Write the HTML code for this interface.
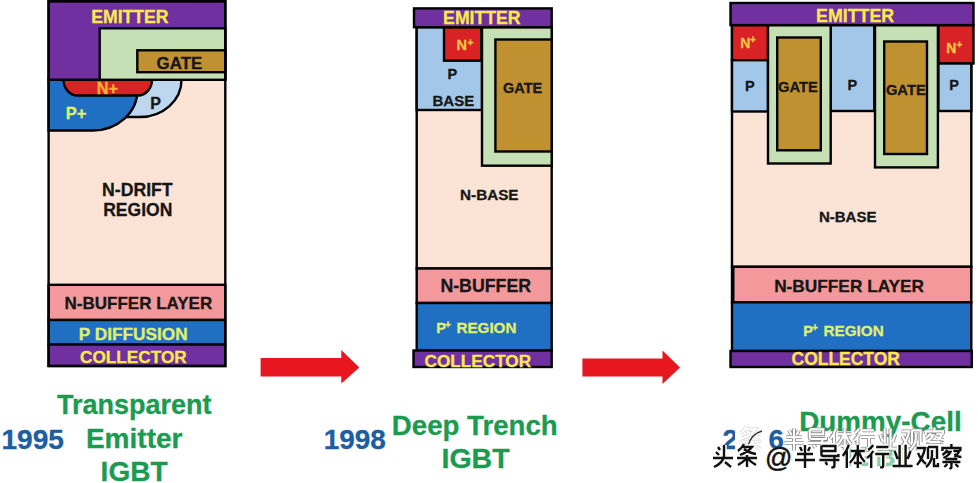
<!DOCTYPE html>
<html><head><meta charset="utf-8">
<style>
html,body{margin:0;padding:0;background:#fff;width:978px;height:483px;overflow:hidden}
svg{display:block}
text{font-family:"Liberation Sans",sans-serif;font-weight:bold}
</style></head><body>
<svg width="978" height="483" viewBox="0 0 978 483">

<g stroke="#000" stroke-width="2.4">
  <rect x="48.6" y="79.8" width="176.7" height="205" fill="#fbe3d6" stroke="none"/>
  <path d="M100,79.8 H181.5 A41.5,37 0 0 1 140,117 H100 Z" fill="#bdd7ee"/>
  <path d="M48.6,79.8 H137.5 V90 A44.5,40.5 0 0 1 93,130.5 H48.6 Z" fill="#1f6fc2"/>
  <path d="M63.5,79.8 A14,15.7 0 0 0 77.5,95.5 H138 A14,15.7 0 0 0 152,79.8 Z" fill="#d82226"/>
  <path d="M48.6,1.2 H225.3 V79.8 H48.6 Z" fill="#7030a0"/>
  <rect x="99.7" y="28.3" width="125.6" height="51.5" fill="#c5e0b4"/>
  <rect x="137.3" y="50.3" width="88" height="21.9" fill="#bf9130"/>
  <rect x="48.6" y="284.8" width="176.7" height="35.2" fill="#f4999b"/>
  <rect x="48.6" y="320" width="176.7" height="24.5" fill="#1f6fc2"/>
  <rect x="48.6" y="344.5" width="176.7" height="21.5" fill="#7030a0"/>
  <rect x="48.6" y="1.2" width="176.7" height="364.8" fill="none"/>
</g>
<g stroke="#000" stroke-width="2.4">
  <rect x="416.7" y="27.2" width="135" height="241.3" fill="#fbe3d6"/>
  <rect x="416.7" y="27.2" width="65.3" height="82.8" fill="#a3c7e8"/>
  <rect x="444" y="27.2" width="37.3" height="33.5" fill="#d82226"/>
  <rect x="482" y="27.2" width="69.7" height="138.5" fill="#c5e0b4"/>
  <rect x="495.4" y="39.5" width="56.3" height="112" fill="#bf9130"/>
  <rect x="414" y="8.4" width="137.7" height="18.8" fill="#7030a0"/>
  <rect x="416.7" y="268.5" width="135" height="34.5" fill="#f4999b"/>
  <rect x="416.7" y="303" width="135" height="47.5" fill="#1f6fc2"/>
  <rect x="413.5" y="350.5" width="138.2" height="16.5" fill="#7030a0"/>
</g>
<g stroke="#000" stroke-width="2.4">
  <rect x="732" y="25.1" width="239.3" height="241.7" fill="#fbe3d6"/>
  <rect x="732" y="25.1" width="36" height="35.1" fill="#d82226"/>
  <rect x="732" y="60.2" width="36" height="51.3" fill="#a3c7e8"/>
  <rect x="830.4" y="25.1" width="43.8" height="85.9" fill="#a3c7e8"/>
  <rect x="938.4" y="25.1" width="35.1" height="38.4" fill="#d82226"/>
  <rect x="938.4" y="63.5" width="32.9" height="47.5" fill="#a3c7e8"/>
  <rect x="768" y="25.1" width="62.7" height="138.4" fill="#c5e0b4"/>
  <rect x="777.2" y="37.5" width="43.6" height="112.8" fill="#bf9130"/>
  <rect x="875" y="25.1" width="62.9" height="142.3" fill="#c5e0b4"/>
  <rect x="884.2" y="41.5" width="42.8" height="112.5" fill="#bf9130"/>
  <rect x="730.5" y="3" width="243" height="22.1" fill="#7030a0"/>
  <rect x="732" y="266.8" width="239.3" height="35.5" fill="#f4999b"/>
  <rect x="732" y="302.3" width="239.3" height="48.7" fill="#1f6fc2"/>
  <rect x="730.5" y="351" width="241.3" height="16" fill="#7030a0"/>
  <rect x="731.5" y="267" width="3" height="35" fill="#000" stroke="none"/>
</g>
<path d="M260.6,358 H341.3 V349.9 L359.3,367.5 L341.3,383.4 V376.6 H260.6 Z" fill="#e8161e"/>
<path d="M582.4,358.6 H662.5 V350.5 L680,367.5 L662.5,384 V376.6 H582.4 Z" fill="#e8161e"/>

<text x="91.22" y="22.75" font-size="17.62" fill="#fbe94c" stroke="#fbe94c" stroke-width="0.3">EMITTER</text>
<text x="156.61" y="68.55" font-size="16.87" fill="#161616" stroke="#161616" stroke-width="0.3">GATE</text>
<text x="96.81" y="93.95" font-size="16.30" fill="#f9b233" stroke="#f9b233" stroke-width="0.3">N+</text>
<text x="65.80" y="119.35" font-size="16.50" fill="#e2ef6a" stroke="#e2ef6a" stroke-width="0.3">P+</text>
<text x="150.13" y="109.45" font-size="16.00" fill="#161616" stroke="#161616" stroke-width="0.3">P</text>
<text x="102.02" y="195.55" font-size="17.67" fill="#161616" stroke="#161616" stroke-width="0.3">N-DRIFT</text>
<text x="103.23" y="216.05" font-size="17.53" fill="#161616" stroke="#161616" stroke-width="0.3">REGION</text>
<text x="64.56" y="309.05" font-size="17.01" fill="#161616" stroke="#161616" stroke-width="0.3">N-BUFFER LAYER</text>
<text x="78.75" y="340.25" font-size="17.24" fill="#e2ef6a" stroke="#e2ef6a" stroke-width="0.3">P DIFFUSION</text>
<text x="80.09" y="363.35" font-size="17.21" fill="#fbe94c" stroke="#fbe94c" stroke-width="0.3">COLLECTOR</text>
<text x="56.90" y="414.45" font-size="27.03" fill="#1a9b50" stroke="#1a9b50" stroke-width="0.3">Transparent</text>
<text x="85.92" y="447.55" font-size="28.04" fill="#1a9b50" stroke="#1a9b50" stroke-width="0.3">Emitter</text>
<text x="100.62" y="480.85" font-size="28.04" fill="#1a9b50" stroke="#1a9b50" stroke-width="0.3">IGBT</text>
<text x="1.43" y="449.45" font-size="28.07" fill="#1d5da2" stroke="#1d5da2" stroke-width="0.3">1995</text>
<text x="443.12" y="24.25" font-size="17.65" fill="#fbe94c" stroke="#fbe94c" stroke-width="0.3">EMITTER</text>
<text x="456.53" y="50.25" font-size="14.50" fill="#fcc640" stroke="#fcc640" stroke-width="0.3">N</text>
<text x="467.48" y="45.65" font-size="10.00" fill="#fcc640" stroke="#fcc640" stroke-width="0.3">+</text>
<text x="447.53" y="79.05" font-size="14.50" fill="#161616" stroke="#161616" stroke-width="0.3">P</text>
<text x="432.50" y="105.55" font-size="15.01" fill="#161616" stroke="#161616" stroke-width="0.3">BASE</text>
<text x="503.01" y="92.85" font-size="14.49" fill="#161616" stroke="#161616" stroke-width="0.3">GATE</text>
<text x="460.08" y="200.35" font-size="15.26" fill="#161616" stroke="#161616" stroke-width="0.3">N-BASE</text>
<text x="440.41" y="291.75" font-size="17.74" fill="#161616" stroke="#161616" stroke-width="0.3">N-BUFFER</text>
<text x="436.33" y="332.65" font-size="14.50" fill="#e2ef6a" stroke="#e2ef6a" stroke-width="0.3">P</text>
<text x="445.08" y="327.55" font-size="10.00" fill="#e2ef6a" stroke="#e2ef6a" stroke-width="0.3">+</text>
<text x="456.48" y="332.65" font-size="15.19" fill="#e2ef6a" stroke="#e2ef6a" stroke-width="0.3">REGION</text>
<text x="424.49" y="366.75" font-size="17.22" fill="#fbe94c" stroke="#fbe94c" stroke-width="0.3">COLLECTOR</text>
<text x="391.85" y="435.05" font-size="27.65" fill="#1a9b50" stroke="#1a9b50" stroke-width="0.3">Deep Trench</text>
<text x="441.49" y="468.25" font-size="28.52" fill="#1a9b50" stroke="#1a9b50" stroke-width="0.3">IGBT</text>
<text x="323.74" y="448.85" font-size="27.92" fill="#1d5da2" stroke="#1d5da2" stroke-width="0.3">1998</text>
<text x="816.11" y="22.05" font-size="17.81" fill="#fbe94c" stroke="#fbe94c" stroke-width="0.3">EMITTER</text>
<text x="740.26" y="47.85" font-size="14.00" fill="#fcc640" stroke="#fcc640" stroke-width="0.3">N</text>
<text x="750.08" y="42.85" font-size="10.00" fill="#fcc640" stroke="#fcc640" stroke-width="0.3">+</text>
<text x="745.03" y="90.65" font-size="14.50" fill="#161616" stroke="#161616" stroke-width="0.3">P</text>
<text x="778.09" y="92.25" font-size="14.75" fill="#161616" stroke="#161616" stroke-width="0.3">GATE</text>
<text x="847.53" y="90.45" font-size="14.50" fill="#161616" stroke="#161616" stroke-width="0.3">P</text>
<text x="885.89" y="95.05" font-size="14.79" fill="#161616" stroke="#161616" stroke-width="0.3">GATE</text>
<text x="946.16" y="53.15" font-size="14.00" fill="#fcc640" stroke="#fcc640" stroke-width="0.3">N</text>
<text x="956.58" y="48.15" font-size="10.00" fill="#fcc640" stroke="#fcc640" stroke-width="0.3">+</text>
<text x="949.23" y="90.45" font-size="14.50" fill="#161616" stroke="#161616" stroke-width="0.3">P</text>
<text x="818.89" y="222.35" font-size="15.05" fill="#161616" stroke="#161616" stroke-width="0.3">N-BASE</text>
<text x="774.14" y="291.75" font-size="17.27" fill="#161616" stroke="#161616" stroke-width="0.3">N-BUFFER LAYER</text>
<text x="803.33" y="335.85" font-size="14.50" fill="#e2ef6a" stroke="#e2ef6a" stroke-width="0.3">P</text>
<text x="812.08" y="330.75" font-size="10.00" fill="#e2ef6a" stroke="#e2ef6a" stroke-width="0.3">+</text>
<text x="823.48" y="335.85" font-size="15.27" fill="#e2ef6a" stroke="#e2ef6a" stroke-width="0.3">REGION</text>
<text x="791.58" y="365.25" font-size="17.47" fill="#fbe94c" stroke="#fbe94c" stroke-width="0.3">COLLECTOR</text>
<text x="799.14" y="430.85" font-size="27.86" fill="#1a9b50" stroke="#1a9b50" stroke-width="0.3">Dummy-Cell</text>
<text x="845.09" y="466.05" font-size="28.56" fill="#1a9b50" stroke="#1a9b50" stroke-width="0.3">IGBT</text>
<text x="722.54" y="449.05" font-size="27.63" fill="#1d5da2" stroke="#1d5da2" stroke-width="0.3">2006</text>
<path d="M735,427 Q750,423 766,428 L769,428 L769,452 L735,452 Z" fill="#fff"/>
<rect x="840" y="441" width="76" height="30" fill="#fff" opacity="0.5"/>
<g fill="none" stroke-linecap="butt" stroke-linejoin="miter">
<path transform="translate(737,425) scale(1.1)" d="M9,1 Q7,5 3,8 M8,4 H17 Q13,9 5,12 M9,6 Q14,10 21,11 M2,15 H22 M12,12 V24 M11,16 Q8,19 3,22 M13,16 Q16,19 21,22" stroke="#d0d0d0" stroke-width="3.27"/>
<path transform="translate(737,425) scale(1.1)" d="M9,1 Q7,5 3,8 M8,4 H17 Q13,9 5,12 M9,6 Q14,10 21,11 M2,15 H22 M12,12 V24 M11,16 Q8,19 3,22 M13,16 Q16,19 21,22" stroke="#ffffff" stroke-width="2.00"/><path transform="translate(782.5,427.5) scale(0.96)" d="M7,3 L9,7 M17,3 L15,7 M4,10 H20 M2,16 H22 M12,1 V24" stroke="#8c8c8c" stroke-width="4.06"/>
<path transform="translate(805.9,427.5) scale(0.96)" d="M4,2 H18 V7 H5 M4,2 V10 Q4,12 6,12 H21 V10 M2,16 H22 M17,13 V22 Q17,24 14,23 M8,18 L10,21" stroke="#8c8c8c" stroke-width="4.06"/>
<path transform="translate(829.3,427.5) scale(0.96)" d="M7,1 Q5,7 1,12 M5,7 V24 M9,7 H23 M16,1 V24 M15,8 Q12,15 8,19 M17,8 Q19,14 23,18 M12,19 H20" stroke="#8c8c8c" stroke-width="4.06"/>
<path transform="translate(852.7,427.5) scale(0.96)" d="M7,1 Q5,4 2,6 M7,7 Q5,11 1,14 M5,11 V24 M10,3 H22 M9,10 H23 M17,10 V22 Q17,24 14,23" stroke="#8c8c8c" stroke-width="4.06"/>
<path transform="translate(876.1,427.5) scale(0.96)" d="M9,1 V21 M15,1 V21 M4,7 L7,15 M20,7 L17,15 M2,22 H22" stroke="#8c8c8c" stroke-width="4.06"/>
<path transform="translate(899.5,427.5) scale(0.96)" d="M2,4 H10 Q8,14 2,21 M3,9 Q6,16 11,20 M13,3 H22 V15 M13,3 V15 M17,6 V12 Q16,19 11,23 M19,14 V22 H23 V19" stroke="#8c8c8c" stroke-width="4.06"/>
<path transform="translate(922.9,427.5) scale(0.96)" d="M12,0 V3 M3,7 V4 H21 V7 M8,6 Q6,9 3,11 M7,8 H11 Q9,12 4,14 M14,7 H20 Q18,11 15,13 M15,10 Q18,13 22,13 M6,15 H18 M3,18 H21 M12,18 V23 Q12,25 10,24 M8,20 L5,23 M16,20 L19,23" stroke="#8c8c8c" stroke-width="4.06"/>
<path transform="translate(782.5,427.5) scale(0.96)" d="M7,3 L9,7 M17,3 L15,7 M4,10 H20 M2,16 H22 M12,1 V24" stroke="#ffffff" stroke-width="2.19"/>
<path transform="translate(805.9,427.5) scale(0.96)" d="M4,2 H18 V7 H5 M4,2 V10 Q4,12 6,12 H21 V10 M2,16 H22 M17,13 V22 Q17,24 14,23 M8,18 L10,21" stroke="#ffffff" stroke-width="2.19"/>
<path transform="translate(829.3,427.5) scale(0.96)" d="M7,1 Q5,7 1,12 M5,7 V24 M9,7 H23 M16,1 V24 M15,8 Q12,15 8,19 M17,8 Q19,14 23,18 M12,19 H20" stroke="#ffffff" stroke-width="2.19"/>
<path transform="translate(852.7,427.5) scale(0.96)" d="M7,1 Q5,4 2,6 M7,7 Q5,11 1,14 M5,11 V24 M10,3 H22 M9,10 H23 M17,10 V22 Q17,24 14,23" stroke="#ffffff" stroke-width="2.19"/>
<path transform="translate(876.1,427.5) scale(0.96)" d="M9,1 V21 M15,1 V21 M4,7 L7,15 M20,7 L17,15 M2,22 H22" stroke="#ffffff" stroke-width="2.19"/>
<path transform="translate(899.5,427.5) scale(0.96)" d="M2,4 H10 Q8,14 2,21 M3,9 Q6,16 11,20 M13,3 H22 V15 M13,3 V15 M17,6 V12 Q16,19 11,23 M19,14 V22 H23 V19" stroke="#ffffff" stroke-width="2.19"/>
<path transform="translate(922.9,427.5) scale(0.96)" d="M12,0 V3 M3,7 V4 H21 V7 M8,6 Q6,9 3,11 M7,8 H11 Q9,12 4,14 M14,7 H20 Q18,11 15,13 M15,10 Q18,13 22,13 M6,15 H18 M3,18 H21 M12,18 V23 Q12,25 10,24 M8,20 L5,23 M16,20 L19,23" stroke="#ffffff" stroke-width="2.19"/>
</g>
<path d="M748,446 Q751,434 762,431" fill="none" stroke="#333" stroke-width="1.3"/>
<g fill="none">
<path transform="translate(711,444) scale(1.0)" d="M7,3 L9,6 M5,8 L8,11 M2,14 H22 M13,1 V12 Q12,19 3,23 M14,18 L20,23" stroke="#ffffff" stroke-width="5.50"/>
<path transform="translate(735,443) scale(1.0)" d="M9,1 Q7,5 3,8 M8,4 H17 Q13,9 5,12 M9,6 Q14,10 21,11 M2,15 H22 M12,12 V24 M11,16 Q8,19 3,22 M13,16 Q16,19 21,22" stroke="#ffffff" stroke-width="5.50"/>
<path transform="translate(793.0,444) scale(1.0)" d="M7,3 L9,7 M17,3 L15,7 M4,10 H20 M2,16 H22 M12,1 V24" stroke="#ffffff" stroke-width="5.50"/>
<path transform="translate(817.4,444) scale(1.0)" d="M4,2 H18 V7 H5 M4,2 V10 Q4,12 6,12 H21 V10 M2,16 H22 M17,13 V22 Q17,24 14,23 M8,18 L10,21" stroke="#ffffff" stroke-width="5.50"/>
<path transform="translate(841.8,444) scale(1.0)" d="M7,1 Q5,7 1,12 M5,7 V24 M9,7 H23 M16,1 V24 M15,8 Q12,15 8,19 M17,8 Q19,14 23,18 M12,19 H20" stroke="#ffffff" stroke-width="5.50"/>
<path transform="translate(866.2,444) scale(1.0)" d="M7,1 Q5,4 2,6 M7,7 Q5,11 1,14 M5,11 V24 M10,3 H22 M9,10 H23 M17,10 V22 Q17,24 14,23" stroke="#ffffff" stroke-width="5.50"/>
<path transform="translate(890.6,444) scale(1.0)" d="M9,1 V21 M15,1 V21 M4,7 L7,15 M20,7 L17,15 M2,22 H22" stroke="#ffffff" stroke-width="5.50"/>
<path transform="translate(915.0,444) scale(1.0)" d="M2,4 H10 Q8,14 2,21 M3,9 Q6,16 11,20 M13,3 H22 V15 M13,3 V15 M17,6 V12 Q16,19 11,23 M19,14 V22 H23 V19" stroke="#ffffff" stroke-width="5.50"/>
<path transform="translate(939.4,444) scale(1.0)" d="M12,0 V3 M3,7 V4 H21 V7 M8,6 Q6,9 3,11 M7,8 H11 Q9,12 4,14 M14,7 H20 Q18,11 15,13 M15,10 Q18,13 22,13 M6,15 H18 M3,18 H21 M12,18 V23 Q12,25 10,24 M8,20 L5,23 M16,20 L19,23" stroke="#ffffff" stroke-width="5.50"/>
<path transform="translate(711,444) scale(1.0)" d="M7,3 L9,6 M5,8 L8,11 M2,14 H22 M13,1 V12 Q12,19 3,23 M14,18 L20,23" stroke="#111111" stroke-width="2.40"/>
<path transform="translate(735,443) scale(1.0)" d="M9,1 Q7,5 3,8 M8,4 H17 Q13,9 5,12 M9,6 Q14,10 21,11 M2,15 H22 M12,12 V24 M11,16 Q8,19 3,22 M13,16 Q16,19 21,22" stroke="#111111" stroke-width="2.40"/>
<path transform="translate(793.0,444) scale(1.0)" d="M7,3 L9,7 M17,3 L15,7 M4,10 H20 M2,16 H22 M12,1 V24" stroke="#111111" stroke-width="2.40"/>
<path transform="translate(817.4,444) scale(1.0)" d="M4,2 H18 V7 H5 M4,2 V10 Q4,12 6,12 H21 V10 M2,16 H22 M17,13 V22 Q17,24 14,23 M8,18 L10,21" stroke="#111111" stroke-width="2.40"/>
<path transform="translate(841.8,444) scale(1.0)" d="M7,1 Q5,7 1,12 M5,7 V24 M9,7 H23 M16,1 V24 M15,8 Q12,15 8,19 M17,8 Q19,14 23,18 M12,19 H20" stroke="#111111" stroke-width="2.40"/>
<path transform="translate(866.2,444) scale(1.0)" d="M7,1 Q5,4 2,6 M7,7 Q5,11 1,14 M5,11 V24 M10,3 H22 M9,10 H23 M17,10 V22 Q17,24 14,23" stroke="#111111" stroke-width="2.40"/>
<path transform="translate(890.6,444) scale(1.0)" d="M9,1 V21 M15,1 V21 M4,7 L7,15 M20,7 L17,15 M2,22 H22" stroke="#111111" stroke-width="2.40"/>
<path transform="translate(915.0,444) scale(1.0)" d="M2,4 H10 Q8,14 2,21 M3,9 Q6,16 11,20 M13,3 H22 V15 M13,3 V15 M17,6 V12 Q16,19 11,23 M19,14 V22 H23 V19" stroke="#111111" stroke-width="2.40"/>
<path transform="translate(939.4,444) scale(1.0)" d="M12,0 V3 M3,7 V4 H21 V7 M8,6 Q6,9 3,11 M7,8 H11 Q9,12 4,14 M14,7 H20 Q18,11 15,13 M15,10 Q18,13 22,13 M6,15 H18 M3,18 H21 M12,18 V23 Q12,25 10,24 M8,20 L5,23 M16,20 L19,23" stroke="#111111" stroke-width="2.40"/>
</g>
<text x="765" y="467" font-size="27" fill="#111" style="font-weight:normal" stroke="#111" stroke-width="0.5">@</text>

</svg>
</body></html>
